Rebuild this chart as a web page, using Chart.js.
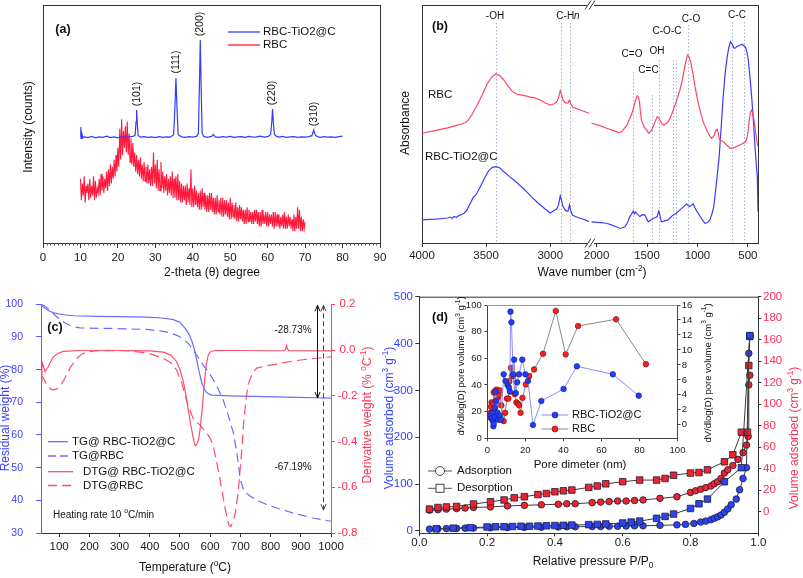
<!DOCTYPE html>
<html><head><meta charset="utf-8"><title>RBC-TiO2@C characterization</title>
<script src="https://cdn.jsdelivr.net/npm/chart.js@4.4.1/dist/chart.umd.min.js"></script>
<style>
html,body{margin:0;padding:0;background:#fff;}
#wrap{position:relative;width:803px;height:578px;overflow:hidden;background:#fff;}
#wrap canvas{position:absolute;}
</style></head><body><div id="wrap"></div>
<script>
// ===================== DATA =====================
// (a) XRD
const xrdTicks = [0, 10, 20, 30, 40, 50, 60, 70, 80, 90];
const xrdTiO2C = [[10,44.5],[10.1,48.7],[10.2,44],[10.4,45.8],[10.7,44.2],[11,44.6],[12,44.3],[13,44.8],[14,44.2],[15,44.6],[16,44.4],[17,44.9],[18,44.3],[19,44.6],[20,44.2],[21,44.7],[22,44.4],[23,44.6],[24,44.8],[24.6,45.3],[24.85,51],[25,55.9],[25.15,51],[25.4,45.2],[26,44.5],[27,44.7],[28,44.4],[29,44.6],[30,44.3],[31,44.7],[32,44.4],[33,44.6],[34,44.5],[34.9,45.5],[35.2,56],[35.5,69.3],[35.8,56],[36.1,45.5],[37,44.6],[38,44.4],[39,44.7],[40,44.5],[41,44.8],[41.5,46],[41.8,68],[42,85.3],[42.2,68],[42.5,46],[43,44.7],[44,44.4],[45,44.8],[45.5,45.6],[46,44.6],[47,44.4],[48,44.7],[49,44.5],[50,44.8],[51,44.4],[52,44.6],[53,44.7],[54,44.4],[55,44.8],[56,44.5],[57,44.6],[58,44.9],[59,44.5],[60,44.7],[60.8,45.6],[61.1,51],[61.3,56.3],[61.5,51],[61.8,45.6],[62.5,44.7],[63,44.5],[64,44.8],[65,44.4],[66,44.6],[67,44.7],[68,44.4],[69,44.6],[70,44.5],[71,44.7],[71.8,45.1],[72.1,46.4],[72.3,47.5],[72.5,46.4],[72.8,45.1],[73.5,44.6],[74,44.4],[75,44.7],[76,44.5],[77,44.6],[78,44.4],[79,44.7],[80,44.9]];
const xrdRbcStart = 10, xrdRbcStep = 0.25;
const xrdRbc = [
27,18,25,20, 28,17,24,21, 25,18,27,19, 24,20,28,18, 26,19,23,21,
27,20,29,22, 28,21,27,23, 30,22,31,24, 33,25,32,27, 35,28,37,30,
40,32,48,35, 52,37,47,40, 49,38,51,37, 46,34,44,33, 42,32,38,30,
37,29,35,28, 36,27,33,26, 34,26,32,25, 33,25,31,24, 32,24,38,25,
33,23,35,22, 31,22,34,23, 30,21,28,22, 29,20,27,21, 28,20,30,19,
27,19,28,18, 29,18,26,17, 25,17,24,18, 24,16,25,17, 23,16,31,15,
23,15,24,16, 22,15,21,14, 22,14,23,15, 21,14,20,13, 20,13,21,14,
21,13,19,12, 19,12,20,13, 18,12,19,11, 19,11,18,12, 18,11,17,10,
19,10,17,11, 16,10,17,9, 15,9,16,10, 15,9,14,8, 14,8,15,9,
14,9,13,8, 13,8,14,9, 14,8,13,7, 13,7,14,8, 12,8,13,7,
13,7,12,8, 12,7,13,6, 13,7,12,7, 12,6,11,7, 12,6,13,6,
11,6,12,7, 11,6,10,5, 12,5,11,6, 15,6,14,5, 11,5,10,6,
9];
const xrdPeakTheta = [25, 35.5, 42, 61.3, 72.3];
const xrdPeakHkl = ['(101)', '(111)', '(200)', '(220)', '(310)'];

// (b) FTIR (wavenumber, absorbance a.u.)
const ftirRbcHigh = [[4000,46.1],[3900,47.2],[3800,48.4],[3730,49.4],[3690,50],[3649,51],[3610,54],[3571,57.8],[3530,62.3],[3493,66.8],[3455,69.8],[3423,71],[3395,70.4],[3364,68.6],[3330,66],[3295,63.6],[3260,62.5],[3200,61.9],[3156,61.3],[3120,61],[3078,60.1],[3040,58.8],[3000,58],[2974,58.4],[2950,59.2],[2935,61],[2922,64],[2910,62],[2900,60],[2880,58.9],[2862,58.8],[2850,60.1],[2840,58.5],[2825,57],[2766,55.9],[2697,54.5]];
const ftirTiHigh = [[4000,9.7],[3900,10],[3857,10.2],[3800,10.5],[3780,10.9],[3765,10.3],[3750,11.2],[3730,10.8],[3710,11.6],[3690,12],[3670,12.6],[3650,13.8],[3635,15.5],[3615,17.5],[3600,19.3],[3585,19.8],[3571,21],[3540,24.2],[3510,27.5],[3480,30.4],[3450,31.8],[3423,32.1],[3395,31.6],[3360,29.8],[3320,28],[3280,26.3],[3240,24.4],[3200,22.4],[3150,19.6],[3100,17],[3040,14.3],[3000,12.6],[2974,13.5],[2950,14.3],[2935,16],[2922,19.9],[2910,17.5],[2900,15.3],[2880,13.6],[2862,13.3],[2850,16],[2840,13.5],[2825,11.6],[2780,10.6],[2740,10],[2697,9]];
const ftirRbcLow = [[2050,50.3],[1960,49.2],[1901,48.2],[1840,47.3],[1786,46.5],[1760,46.6],[1736,47.5],[1700,49.5],[1670,52.4],[1645,55],[1630,57.3],[1610,60.5],[1597,61.8],[1585,61.2],[1575,59.5],[1565,55],[1555,51.5],[1530,48.8],[1504,47.5],[1481,46.1],[1460,47],[1439,48.9],[1415,51.5],[1399,53.1],[1385,52.6],[1372,51.7],[1350,50],[1333,49.6],[1310,50.2],[1290,51],[1265,53],[1240,55.9],[1210,59.5],[1174,64.3],[1150,68.5],[1125,74.1],[1110,77.3],[1098,79],[1085,78.3],[1070,76.5],[1058,74.1],[1040,70],[1025,65.7],[1000,60.5],[976,55.9],[945,51],[909,47.5],[880,45.2],[860,44],[840,44.8],[827,46.1],[815,47.6],[804,47.8],[795,46.5],[785,44],[777,43.3],[760,43],[745,42.6],[710,41.2],[678,39.8],[645,40],[612,40.5],[580,41.2],[546,41.9],[525,42.5],[513,43.3],[500,46.5],[487,51.7],[475,55],[463,55.9],[452,54.5],[440,51.7],[425,47],[413,43.3],[400,40.5]];
const ftirTiLow = [[2050,8.9],[1960,8.6],[1901,8.3],[1840,7.4],[1800,6.7],[1769,6.2],[1745,6.4],[1719,6.8],[1700,8],[1685,9.5],[1670,11.1],[1650,12.4],[1637,13.4],[1625,12.2],[1615,13],[1603,12.5],[1590,11.8],[1571,11.1],[1545,11.9],[1521,11.8],[1505,10.4],[1488,8.9],[1465,9.6],[1439,10.4],[1420,10.6],[1399,11.1],[1385,13.3],[1375,12.4],[1365,10],[1356,8.9],[1330,9.2],[1290,9.7],[1265,10.8],[1240,11.8],[1210,12.5],[1174,13.9],[1140,15.2],[1108,16.4],[1090,15.6],[1075,15.3],[1060,15.9],[1042,16.4],[1025,14.8],[1010,13.6],[992,12.5],[960,10.2],[926,8.3],[900,8.6],[877,9.7],[855,12.5],[840,15],[827,19.5],[805,28],[785,36.3],[765,48.5],[745,61.5],[725,71.5],[705,78.3],[690,82],[672,84.6],[655,83.5],[640,82],[629,81.8],[610,82.5],[579,83.2],[555,83.4],[529,82.5],[515,81.2],[496,76.9],[480,70],[463,61.5],[445,51],[430,40.5],[415,32],[407,27.9],[403,20],[400,13.2]];
const ftirTicksHigh = [4000, 3500, 3000];
const ftirTicksLow = [2000, 1500, 1000, 500];
const ftirBandWn = [3420, 2918, 2848, 1638, 1446, 1386, 1245, 1210, 1093, 654, 539];

// (c) TG / DTG (temperature degC)
const tgTicksT = [100, 200, 300, 400, 500, 600, 700, 800, 900, 1000];
const tgTicksW = [30, 40, 50, 60, 70, 80, 90, 100];
const dtgTicks = [-0.8, -0.6, -0.4, -0.2, 0, 0.2];
const tgTiO2C = [[40,100],[50,99],[70,97.8],[90,97.2],[114,96.8],[150,96.5],[224,96.3],[300,96.2],[390,96.1],[440,95.8],[478,95.3],[500,94.5],[511,93.3],[522,92],[533,90.3],[542,88],[550,85.4],[561,80.4],[572,76],[580,74.2],[588,73],[597,72.5],[605,72.2],[630,72.1],[666,72],[750,71.8],[886,71.5],[950,71.4],[1000,71.3]];
const tgRbc = [[40,100],[50,99.6],[70,98.3],[85,96.8],[103,95.3],[120,94.3],[136,93.5],[150,93.1],[169,92.8],[200,92.7],[279,92.6],[390,92.3],[440,91.8],[467,91.3],[490,90.5],[511,89.4],[530,87.8],[544,85.9],[560,83.8],[577,81.4],[595,79.2],[610,77],[627,74],[644,70.5],[660,66],[677,60.6],[690,53.5],[699,46.7],[710,43.3],[720,42.2],[732,41.3],[760,39.8],[798,38.3],[850,36.8],[886,35.8],[940,34.6],[1000,33.6]];
const dtgTiO2C = [[40,-0.136],[43,-0.08],[45,-0.058],[48,-0.07],[53,-0.094],[58,-0.085],[64,-0.073],[72,-0.05],[81,-0.03],[95,-0.015],[114,-0.006],[169,-0.002],[250,-0.001],[335,-0.002],[400,-0.004],[445,-0.009],[470,-0.022],[489,-0.051],[500,-0.085],[511,-0.136],[520,-0.2],[528,-0.264],[536,-0.33],[543,-0.377],[547,-0.405],[550,-0.417],[554,-0.415],[558,-0.405],[562,-0.391],[568,-0.33],[575,-0.235],[581,-0.14],[587,-0.065],[593,-0.025],[599,-0.009],[610,-0.003],[621,-0.002],[700,-0.002],[800,-0.003],[845,-0.003],[850,0.005],[853,0.02],[856,0.005],[860,-0.003],[900,-0.003],[1000,-0.004]];
const dtgRbc = [[40,-0.11],[48,-0.122],[56,-0.145],[64,-0.157],[72,-0.17],[81,-0.175],[92,-0.17],[103,-0.158],[114,-0.135],[125,-0.108],[140,-0.07],[158,-0.037],[175,-0.018],[191,-0.009],[230,-0.003],[279,-0.002],[330,-0.004],[368,-0.009],[410,-0.02],[445,-0.037],[470,-0.055],[489,-0.087],[505,-0.14],[522,-0.221],[535,-0.27],[544,-0.299],[555,-0.315],[566,-0.327],[577,-0.345],[588,-0.363],[600,-0.385],[610,-0.419],[620,-0.48],[632,-0.561],[641,-0.63],[649,-0.688],[656,-0.735],[662,-0.766],[668,-0.772],[677,-0.745],[685,-0.7],[693,-0.617],[702,-0.48],[710,-0.334],[718,-0.22],[726,-0.15],[740,-0.1],[754,-0.079],[790,-0.068],[831,-0.058],[880,-0.047],[941,-0.037],[1000,-0.03]];
const tgLossTiO2C = '-28.73%', tgLossRbc = '-67.19%';

// (d) N2 isotherms (P/P0, cm3/g) and pore size distribution
const betTicksP = [0, 0.2, 0.4, 0.6, 0.8, 1.0];
const betTicksTi = [0, 100, 200, 300, 400, 500];
const betTicksRbc = [0, 20, 40, 60, 80, 100, 120, 140, 160, 180, 200];
const betTiAds = [[0.03,4],[0.055,4.5],[0.08,5],[0.11,5.5],[0.135,6],[0.16,6.3],[0.21,6.8],[0.26,7.2],[0.31,7.6],[0.36,8],[0.41,8.5],[0.435,9],[0.46,9],[0.51,9.5],[0.535,9.5],[0.56,10],[0.585,10],[0.61,10.5],[0.635,11],[0.66,11],[0.71,12],[0.76,13],[0.785,14],[0.81,16],[0.83,19],[0.845,21],[0.86,24],[0.87,27],[0.88,30],[0.89,34],[0.9,40],[0.91,47],[0.92,56],[0.935,68],[0.945,88],[0.955,112],[0.965,135],[0.972,379],[0.975,417]];
const betTiDes = [[0.975,417],[0.95,135],[0.9,105],[0.85,68],[0.825,58],[0.8,48],[0.75,36],[0.725,31],[0.7,27],[0.65,21],[0.625,19],[0.6,17],[0.55,15],[0.525,14],[0.5,13.5],[0.45,12.5],[0.425,12],[0.4,11.5],[0.375,11],[0.35,10.5],[0.325,10],[0.3,10],[0.275,9.5],[0.25,9],[0.225,9],[0.2,8.5],[0.15,7],[0.1,6],[0.05,4.5]];
const betRbcAds = [[0.03,1.5],[0.055,2],[0.08,2.5],[0.11,3],[0.135,3.5],[0.16,4],[0.21,4.5],[0.26,5.5],[0.31,6],[0.36,6.5],[0.41,7],[0.435,7.5],[0.46,7.5],[0.51,8.5],[0.535,9],[0.56,9.5],[0.585,10],[0.61,10],[0.635,10.5],[0.66,11],[0.71,12.5],[0.76,14],[0.8,18],[0.815,19.5],[0.83,21],[0.845,22.5],[0.86,24],[0.87,26],[0.88,28],[0.89,31],[0.9,36],[0.91,39],[0.925,43],[0.94,48.7],[0.955,55],[0.965,62],[0.97,70],[0.972,118],[0.975,127]];
const betRbcDes = [[0.975,163],[0.972,136],[0.968,74],[0.95,74],[0.925,53],[0.9,46.5],[0.85,39],[0.825,36.5],[0.8,36],[0.75,34],[0.725,31],[0.7,29.5],[0.65,29.5],[0.6,28],[0.55,26],[0.525,24],[0.5,22.7],[0.45,20.2],[0.425,19.5],[0.4,18.6],[0.375,17],[0.35,16],[0.31,14],[0.28,13],[0.25,11],[0.21,9.3],[0.16,7.2],[0.11,5],[0.08,4.5],[0.055,4],[0.03,2.5]];
const poreTicksD = [0, 20, 40, 60, 80, 100];
const poreTicksTi = [0, 20, 40, 60, 80, 100];
const poreTicksRbc = [0, 2, 4, 6, 8, 10, 12, 14, 16];
const poreTiO2C = [[1.7,17],[2.2,15],[2.6,19],[3.0,13],[3.2,9],[3.4,11],[3.7,16],[4.0,23],[4.4,35],[4.8,28],[5.3,19],[5.8,14],[6.5,17],[7.2,14],[8.6,48],[9.6,43],[10.6,40],[11.4,38],[11.9,35],[12.2,95],[12.7,87],[13.6,48],[14.1,59],[15.0,34],[15.7,42],[16.7,48],[18.4,59],[20.0,48],[21.4,43],[24.0,10],[28.4,28],[40.1,37],[47.1,54],[66.0,48],[79.6,32]];
const poreRbc = [[1.3,1.0],[1.6,1.6],[1.9,2.4],[2.2,3.0],[2.5,1.2],[2.8,0.6],[3.1,2.8],[3.4,4.3],[3.7,1.8],[4.0,4.5],[4.4,3.2],[4.8,4.7],[5.2,1.6],[5.6,3.7],[6.0,4.0],[6.5,4.6],[7.4,2.6],[8.6,0.5],[9.4,1.6],[10.3,3.5],[11.1,3.5],[11.6,5.8],[12.4,7.6],[12.9,6.5],[13.7,6.5],[14.4,4.1],[15.3,3.0],[16.2,2.8],[16.7,2.6],[17.5,1.6],[18.5,3.6],[20.3,5.4],[22.0,6.5],[24.6,7.4],[29.3,9.5],[36.0,15.2],[41.2,9.4],[47.7,13.2],[67.7,14.1],[83.4,8.1]];

// ===================== RENDER =====================
const FF = '"Liberation Sans", Arial, Helvetica, sans-serif';
Chart.defaults.font.family = FF;
Chart.defaults.font.size = 11.5;
Chart.defaults.color = '#1a1a1a';
Chart.defaults.animation = false;
Chart.defaults.responsive = false;
Chart.defaults.maintainAspectRatio = false;
Chart.defaults.events = [];
Chart.defaults.plugins.legend.display = false;
Chart.defaults.plugins.tooltip.enabled = false;
Chart.defaults.elements.point.radius = 0;
Chart.defaults.elements.point.hoverRadius = 0;
Chart.defaults.elements.line.tension = 0;

const wrap = document.getElementById('wrap');
function panel(L, T, W, H) {
  const c = document.createElement('canvas');
  c.width = W; c.height = H;
  c.style.left = L + 'px'; c.style.top = T + 'px';
  c.style.width = W + 'px'; c.style.height = H + 'px';
  wrap.appendChild(c);
  return { c, L, T, W, H };
}
const pts = arr => arr.map(([x, y]) => ({ x, y }));
const setW = w => s => { s.width = w; };
const setH = h => s => { s.height = h; };
const useTicks = list => s => { s.ticks = list.map(value => ({ value })); };
const num = v => String(v);

function fontOf(size, m, bold) {
  const s = (m === 'sup' || m === 'sub') ? size * 0.68 : size;
  return (m === 'it' ? 'italic ' : '') + (bold ? 'bold ' : '') + s + 'px ' + FF;
}
function rich(ctx, parts, x, y, o) {
  o = o || {};
  if (typeof parts === 'string') parts = [[parts]];
  const size = o.size || 12;
  ctx.save();
  ctx.translate(x, y);
  if (o.rot) ctx.rotate(o.rot);
  let w = 0;
  for (const [t, m] of parts) { ctx.font = fontOf(size, m, o.bold); w += ctx.measureText(t).width; }
  let cx = o.align === 'left' ? 0 : o.align === 'right' ? -w : -w / 2;
  ctx.fillStyle = o.color || '#111';
  ctx.textBaseline = 'middle'; ctx.textAlign = 'left';
  for (const [t, m] of parts) {
    ctx.font = fontOf(size, m, o.bold);
    const dy = m === 'sup' ? -size * 0.38 : m === 'sub' ? size * 0.3 : 0;
    ctx.fillText(t, cx, dy);
    cx += ctx.measureText(t).width;
  }
  ctx.restore();
}
function seg(ctx, x1, y1, x2, y2, color, w, dash) {
  ctx.save(); ctx.strokeStyle = color; ctx.lineWidth = w || 1; ctx.setLineDash(dash || []);
  ctx.beginPath(); ctx.moveTo(x1, y1); ctx.lineTo(x2, y2); ctx.stroke(); ctx.restore();
}
function arrowV(ctx, x, y1, y2, dash, color) {
  seg(ctx, x, y1, x, y2, color, 1, dash);
  ctx.save(); ctx.strokeStyle = color; ctx.lineWidth = 1;
  const h = 6, w = 2.5;
  ctx.beginPath(); ctx.moveTo(x - w, y1 + h); ctx.lineTo(x, y1); ctx.lineTo(x + w, y1 + h); ctx.stroke();
  ctx.beginPath(); ctx.moveTo(x - w, y2 - h); ctx.lineTo(x, y2); ctx.lineTo(x + w, y2 - h); ctx.stroke();
  ctx.restore();
}
function deco(p, after, before) {
  const X = x => x - p.L, Y = y => y - p.T;
  return {
    id: 'deco',
    beforeDatasetsDraw(ch) { if (before) { const ctx = ch.ctx; ctx.save(); before(ch, ctx, X, Y); ctx.restore(); } },
    afterDraw(ch) { const ctx = ch.ctx; ctx.save(); after(ch, ctx, X, Y); ctx.restore(); }
  };
}
const ROT = -Math.PI / 2;
const axisGrid = (c, len) => ({ drawOnChartArea: false, tickLength: len, color: c });

// ---------- (a) XRD ----------
const pA = panel(0, 0, 400, 290);
new Chart(pA.c, {
  type: 'line',
  data: { datasets: [
    { data: pts(xrdTiO2C), xAxisID: 'x', yAxisID: 'y', borderColor: '#2f3dff', borderWidth: 1.2 },
    { data: xrdRbc.map((v, i) => ({ x: xrdRbcStart + i * xrdRbcStep, y: v })), xAxisID: 'x', yAxisID: 'y', borderColor: '#ff1a3c', borderWidth: 1.1 }
  ] },
  options: {
    layout: { padding: { top: 5, right: 20, left: 0, bottom: 0 } },
    scales: {
      x: { type: 'linear', position: 'bottom', min: xrdTicks[0], max: xrdTicks[xrdTicks.length - 1], afterFit: setH(47),
        afterBuildTicks: useTicks(xrdTicks),
        ticks: { padding: 3, maxRotation: 0, autoSkip: false, callback: num },
        grid: axisGrid('#333', 5), border: { color: '#333' } },
      y: { type: 'linear', position: 'left', min: 0, max: 100, afterFit: setW(43),
        ticks: { display: false }, grid: { display: false }, border: { color: '#333' } }
    }
  },
  plugins: [deco(pA, (ch, ctx, X, Y) => {
    const a = ch.chartArea, xs = ch.scales.x, ys = ch.scales.y;
    seg(ctx, a.left, a.top + 0.5, a.right + 0.5, a.top + 0.5, '#333');
    seg(ctx, a.right + 0.5, a.top, a.right + 0.5, a.bottom, '#333');
    for (let v = 1; v < 90; v++) if (v % 10) {
      const x = Math.round(xs.getPixelForValue(v)) + 0.5;
      seg(ctx, x, a.bottom, x, a.bottom + 2.5, '#555');
    }
    xrdPeakTheta.forEach((t, i) => {
      const top = Math.max(...xrdTiO2C.filter(d => Math.abs(d[0] - t) < 0.6).map(d => d[1]));
      rich(ctx, xrdPeakHkl[i], xs.getPixelForValue(t), ys.getPixelForValue(top) - 16, { rot: ROT, size: 10.5 });
    });
    seg(ctx, X(228), Y(32), X(260), Y(32), '#2f3dff', 1.3);
    rich(ctx, 'RBC-TiO2@C', X(263), Y(32), { align: 'left', size: 11.5 });
    seg(ctx, X(228), Y(45), X(260), Y(45), '#ff1a3c', 1.3);
    rich(ctx, 'RBC', X(263), Y(45), { align: 'left', size: 11.5 });
    rich(ctx, '(a)', X(63), Y(30), { bold: true, size: 12.5 });
    rich(ctx, 'Intensity (counts)', X(29), Y(127), { rot: ROT, size: 12 });
    rich(ctx, [['2-theta ('], ['θ'], [') degree']], X(212), Y(273), { size: 12 });
  })]
});

// ---------- (b) FTIR ----------
const pB = panel(400, 0, 403, 290);
new Chart(pB.c, {
  type: 'line',
  data: { datasets: [
    { data: pts(ftirRbcHigh), xAxisID: 'xL', yAxisID: 'y', borderColor: '#ff4466', borderWidth: 1.2 },
    { data: pts(ftirTiHigh), xAxisID: 'xL', yAxisID: 'y', borderColor: '#3b3bff', borderWidth: 1.2 },
    { data: pts(ftirRbcLow), xAxisID: 'xR', yAxisID: 'y', borderColor: '#ff4466', borderWidth: 1.2 },
    { data: pts(ftirTiLow), xAxisID: 'xR', yAxisID: 'y', borderColor: '#3b3bff', borderWidth: 1.2 }
  ] },
  options: {
    layout: { padding: { top: 5, right: 45, left: 0, bottom: 0 } },
    scales: {
      xL: { type: 'linear', position: 'bottom', stack: 'wn', stackWeight: 1, reverse: true, min: 2690, max: 4000, afterFit: setH(47),
        afterBuildTicks: useTicks(ftirTicksHigh),
        ticks: { padding: 2, maxRotation: 0, autoSkip: false, callback: num },
        grid: axisGrid('#333', 4), border: { color: '#333' } },
      xR: { type: 'linear', position: 'bottom', stack: 'wn', stackWeight: 1, reverse: true, min: 400, max: 2065, afterFit: setH(47),
        afterBuildTicks: useTicks(ftirTicksLow),
        ticks: { padding: 2, maxRotation: 0, autoSkip: false, callback: num },
        grid: axisGrid('#333', 4), border: { color: '#333' } },
      y: { type: 'linear', position: 'left', min: 0, max: 100, afterFit: setW(22),
        ticks: { display: false }, grid: { display: false }, border: { color: '#333' } }
    }
  },
  plugins: [deco(pB, (ch, ctx, X, Y) => {
    const a = ch.chartArea, xL = ch.scales.xL;
    const bx = xL.right;
    seg(ctx, a.left, a.top + 0.5, bx - 3, a.top + 0.5, '#333');
    seg(ctx, bx + 4, a.top + 0.5, a.right + 0.5, a.top + 0.5, '#333');
    seg(ctx, a.right + 0.5, a.top, a.right + 0.5, a.bottom + 0.5, '#333');
    ctx.fillStyle = '#fff'; ctx.fillRect(bx - 3, a.bottom - 1.5, 7, 3);
    for (const yy of [a.top, a.bottom]) for (const d of [-2, 2]) seg(ctx, bx + d - 3, yy + 4.5, bx + d + 3, yy - 4.5, '#333');
    const lab = (t, x, y) => rich(ctx, t, X(x), Y(y), { size: 10 });
    lab('-OH', 495, 16); lab([['C-H'], ['n', 'it']], 568, 16); lab('C=O', 632, 54); lab('C=C', 648.5, 70);
    lab('OH', 657, 51); lab('C-O-C', 667, 31); lab('C-O', 691, 19); lab('C-C', 737, 15);
    rich(ctx, '(b)', X(440), Y(27), { bold: true, size: 12.5 });
    rich(ctx, 'RBC', X(428), Y(95), { align: 'left', size: 11.5 });
    rich(ctx, 'RBC-TiO2@C', X(425), Y(157), { align: 'left', size: 11.5 });
    rich(ctx, 'Absorbance', X(406), Y(123), { rot: ROT, size: 12 });
    rich(ctx, [['Wave number (cm'], ['-2', 'sup'], [')']], X(592), Y(273), { size: 12 });
  }, (ch, ctx, X, Y) => {
    const a = ch.chartArea;
    const bandTop = [23, 23, 23, 72, 95, 60, 60, 60, 25, 22, 22];
    ftirBandWn.forEach((wn, i) => {
      const sc = wn > 2100 ? ch.scales.xL : ch.scales.xR;
      const x = Math.round(sc.getPixelForValue(wn)) + 0.5;
      seg(ctx, x, Y(bandTop[i]), x, a.bottom, '#a3b4d6', 1, [1.5, 2]);
    });
  })]
});

// ---------- (c) TG / DTG ----------
const pC = panel(0, 285, 380, 293);
const tgBlue = '#6b6bff', tgRed = '#ff4d6d';
new Chart(pC.c, {
  type: 'line',
  data: { datasets: [
    { data: pts(tgTiO2C), xAxisID: 'x', yAxisID: 'y', borderColor: tgBlue, borderWidth: 1.2 },
    { data: pts(tgRbc), xAxisID: 'x', yAxisID: 'y', borderColor: tgBlue, borderWidth: 1.2, borderDash: [9, 5] },
    { data: pts(dtgTiO2C), xAxisID: 'x', yAxisID: 'y2', borderColor: tgRed, borderWidth: 1.2 },
    { data: pts(dtgRbc), xAxisID: 'x', yAxisID: 'y2', borderColor: tgRed, borderWidth: 1.2, borderDash: [10, 5] }
  ] },
  options: {
    layout: { padding: { top: 12.5, right: 0, left: 0, bottom: 0 } },
    scales: {
      x: { type: 'linear', position: 'bottom', min: 40, max: 1000, afterFit: setH(45),
        afterBuildTicks: useTicks(tgTicksT),
        ticks: { padding: 3, maxRotation: 0, autoSkip: false, callback: num },
        grid: axisGrid('#333', 4), border: { color: '#333' } },
      y: { type: 'linear', position: 'left', min: 30, max: 100, afterFit: setW(41),
        afterBuildTicks: useTicks(tgTicksW),
        ticks: { color: '#3c3cff', padding: 13, font: { size: 10.5 }, callback: num }, grid: axisGrid('#5a5aff', 5), border: { color: '#5a5aff' } },
      y2: { type: 'linear', position: 'right', min: -0.8, max: 0.2, afterFit: setW(49),
        afterBuildTicks: useTicks(dtgTicks),
        ticks: { color: '#ff2d55', padding: 2.6, crossAlign: 'center', callback: v => v.toFixed(1) },
        grid: axisGrid('#ff4060', 4), border: { color: '#ff4060' } }
    }
  },
  plugins: [deco(pC, (ch, ctx, X, Y) => {
    const xs = ch.scales.x, ys = ch.scales.y;
    const lg = [
      [441.7, tgBlue, [], 48, 68, 72, 'TG@ RBC-TiO2@C'],
      [456, tgBlue, [8, 4], 48, 72, 72, 'TG@RBC'],
      [471.7, tgRed, [], 48, 73, 83, 'DTG@ RBC-TiO2@C'],
      [485.5, tgRed, [9, 5], 48, 73, 83, 'DTG@RBC']
    ];
    for (const [y, c, d, x1, x2, tx, t] of lg) {
      seg(ctx, X(x1), Y(y), X(x2), Y(y), c, 1.3, d);
      rich(ctx, t, X(tx), Y(y), { align: 'left', size: 11.5 });
    }
    arrowV(ctx, Math.round(xs.getPixelForValue(952)) + 0.5, ys.getPixelForValue(100) + 1, ys.getPixelForValue(71.3), [], '#111');
    arrowV(ctx, Math.round(xs.getPixelForValue(972)) + 0.5, ys.getPixelForValue(100) + 1, ys.getPixelForValue(37), [5, 3], '#444');
    rich(ctx, tgLossTiO2C, X(293), Y(330), { size: 10 });
    rich(ctx, tgLossRbc, X(293), Y(467), { size: 10 });
    rich(ctx, [['Heating rate 10 '], ['o', 'sup'], ['C/min']], X(53), Y(515), { align: 'left', size: 10 });
    rich(ctx, '(c)', X(55), Y(328), { bold: true, size: 12.5 });
    rich(ctx, 'Residual weight (%)', X(6), Y(418), { rot: ROT, size: 12, color: '#3c3cff' });
    rich(ctx, [['Derivative weight (% '], ['o', 'sup'], ['C'], ['-1', 'sup'], [')']], X(368), Y(415), { rot: ROT, size: 12, color: '#ff2d55' });
    rich(ctx, [['Temperature ('], ['o', 'sup'], ['C)']], X(185), Y(568), { size: 12 });
  })]
});

// ---------- (d) isotherms ----------
const pD = panel(380, 285, 423, 293);
const betSet = (data, axis, bg, style, r) => ({
  data: pts(data), xAxisID: 'x', yAxisID: axis, borderColor: '#3a3a3a', borderWidth: 1,
  pointRadius: r, pointStyle: style, pointBackgroundColor: bg, pointBorderColor: '#1c1c3c', pointBorderWidth: 0.8
});
const bBlue = '#2e44f0', bRed = '#f0222a';
new Chart(pD.c, {
  type: 'line',
  data: { datasets: [
    betSet(betTiDes, 'y', bBlue, 'rect', 4.6),
    betSet(betTiAds, 'y', bBlue, 'circle', 3.3),
    betSet(betRbcDes, 'y2', bRed, 'rect', 4.6),
    betSet(betRbcAds, 'y2', bRed, 'circle', 3.3)
  ] },
  options: {
    layout: { padding: { top: 11.7, right: 0, left: 0, bottom: 0 } },
    scales: {
      x: { type: 'linear', position: 'bottom', min: 0, max: 1, afterFit: setH(44.7),
        afterBuildTicks: useTicks(betTicksP),
        ticks: { padding: 0, maxRotation: 0, autoSkip: false, callback: v => v.toFixed(1) },
        grid: axisGrid('#333', 3), border: { color: '#333' } },
      y: { type: 'linear', position: 'left', min: -5, max: 500, afterFit: setW(39.3),
        afterBuildTicks: useTicks(betTicksTi),
        ticks: { color: '#3344ff', padding: 2.3, callback: num },
        grid: axisGrid('#333', 4), border: { color: '#333' } },
      y2: { type: 'linear', position: 'right', min: -20, max: 200, afterFit: setW(44.7),
        afterBuildTicks: useTicks(betTicksRbc),
        ticks: { color: '#ff2d55', padding: 1.7, callback: num },
        grid: axisGrid('#333', 3), border: { color: '#333' } }
    }
  },
  plugins: [deco(pD, (ch, ctx, X, Y) => {
    const a = ch.chartArea;
    seg(ctx, a.left, a.top + 0.5, a.right, a.top + 0.5, '#333');
    seg(ctx, X(428), Y(471), X(452), Y(471), '#555');
    ctx.save(); ctx.fillStyle = '#fff'; ctx.strokeStyle = '#444'; ctx.lineWidth = 1;
    ctx.beginPath(); ctx.arc(X(440), Y(471), 4.5, 0, Math.PI * 2); ctx.fill(); ctx.stroke();
    seg(ctx, X(428), Y(488.3), X(452), Y(488.3), '#555');
    ctx.fillRect(X(436), Y(484.3), 8, 8); ctx.strokeRect(X(436), Y(484.3), 8, 8);
    ctx.restore();
    rich(ctx, 'Adsorption', X(457), Y(471), { align: 'left', size: 11.5 });
    rich(ctx, 'Desorption', X(457), Y(488.3), { align: 'left', size: 11.5 });
    rich(ctx, '(d)', X(440), Y(318), { bold: true, size: 12.5 });
    const vt = [['Volume adsorbed (cm'], ['3', 'sup'], [' g'], ['-1', 'sup'], [')']];
    rich(ctx, vt, X(390), Y(418), { rot: ROT, size: 12, color: '#3344ff' });
    rich(ctx, vt, X(795), Y(438), { rot: ROT, size: 12, color: '#ff2d55' });
    rich(ctx, [['Relative pressure P/P'], ['0', 'sub']], X(593), Y(562), { size: 12 });
  })]
});

// ---------- (d) inset: pore size distribution ----------
const pI = panel(450, 292, 270, 185);
const inFont = { size: 9.5 };
new Chart(pI.c, {
  type: 'line',
  data: { datasets: [
    { data: pts(poreTiO2C), xAxisID: 'x', yAxisID: 'y', borderColor: '#8b8bff', borderWidth: 1, pointRadius: 2.8,
      pointBackgroundColor: '#1f3cff', pointBorderColor: '#15206a', pointBorderWidth: 0.6 },
    { data: pts(poreRbc), xAxisID: 'x', yAxisID: 'y2', borderColor: '#8a8a8a', borderWidth: 1, pointRadius: 2.8,
      pointBackgroundColor: '#ff1e1e', pointBorderColor: '#6a1010', pointBorderWidth: 0.6 }
  ] },
  options: {
    layout: { padding: { top: 13, right: 0, left: 0, bottom: 0 } },
    scales: {
      x: { type: 'linear', position: 'bottom', min: 0, max: 100, afterFit: setH(38.7),
        afterBuildTicks: useTicks(poreTicksD),
        ticks: { padding: 3, maxRotation: 0, autoSkip: false, font: inFont, callback: num },
        grid: axisGrid('#444', 3), border: { color: '#444' } },
      y: { type: 'linear', position: 'left', min: 0, max: 100, afterFit: setW(37.3),
        afterBuildTicks: useTicks(poreTicksTi),
        ticks: { padding: 2.6, font: inFont, callback: num }, grid: axisGrid('#444', 3), border: { color: '#444' } },
      y2: { type: 'linear', position: 'right', min: -1.8, max: 16, afterFit: setW(42.5),
        afterBuildTicks: useTicks(poreTicksRbc),
        ticks: { padding: 1.2, font: inFont, callback: num }, grid: axisGrid('#444', 3), border: { color: '#444' } }
    }
  },
  plugins: [deco(pI, (ch, ctx, X, Y) => {
    const a = ch.chartArea;
    seg(ctx, a.left, a.top + 0.5, a.right, a.top + 0.5, '#999');
    seg(ctx, X(541.7), Y(415), X(568.3), Y(415), '#8b8bff');
    seg(ctx, X(541.7), Y(429), X(568.3), Y(429), '#8a8a8a');
    ctx.save(); ctx.lineWidth = 0.6;
    ctx.fillStyle = '#1f3cff'; ctx.strokeStyle = '#15206a';
    ctx.beginPath(); ctx.arc(X(555), Y(415), 3, 0, Math.PI * 2); ctx.fill(); ctx.stroke();
    ctx.fillStyle = '#ff1e1e'; ctx.strokeStyle = '#6a1010';
    ctx.beginPath(); ctx.arc(X(555), Y(429), 3, 0, Math.PI * 2); ctx.fill(); ctx.stroke();
    ctx.restore();
    rich(ctx, 'RBC-TiO2@C', X(572), Y(415), { align: 'left', size: 11 });
    rich(ctx, 'RBC', X(572), Y(429), { align: 'left', size: 11 });
    const pv = [['dV/dlog(D) pore volume (cm'], ['3', 'sup'], [' g'], ['-1', 'sup'], [')']];
    rich(ctx, pv, X(461.7), Y(366), { rot: ROT, size: 9.5 });
    rich(ctx, pv, X(708), Y(373), { rot: ROT, size: 9.5 });
    rich(ctx, 'Pore dimeter (nm)', X(580), Y(465), { size: 11.5 });
  })]
});
</script></body></html>
